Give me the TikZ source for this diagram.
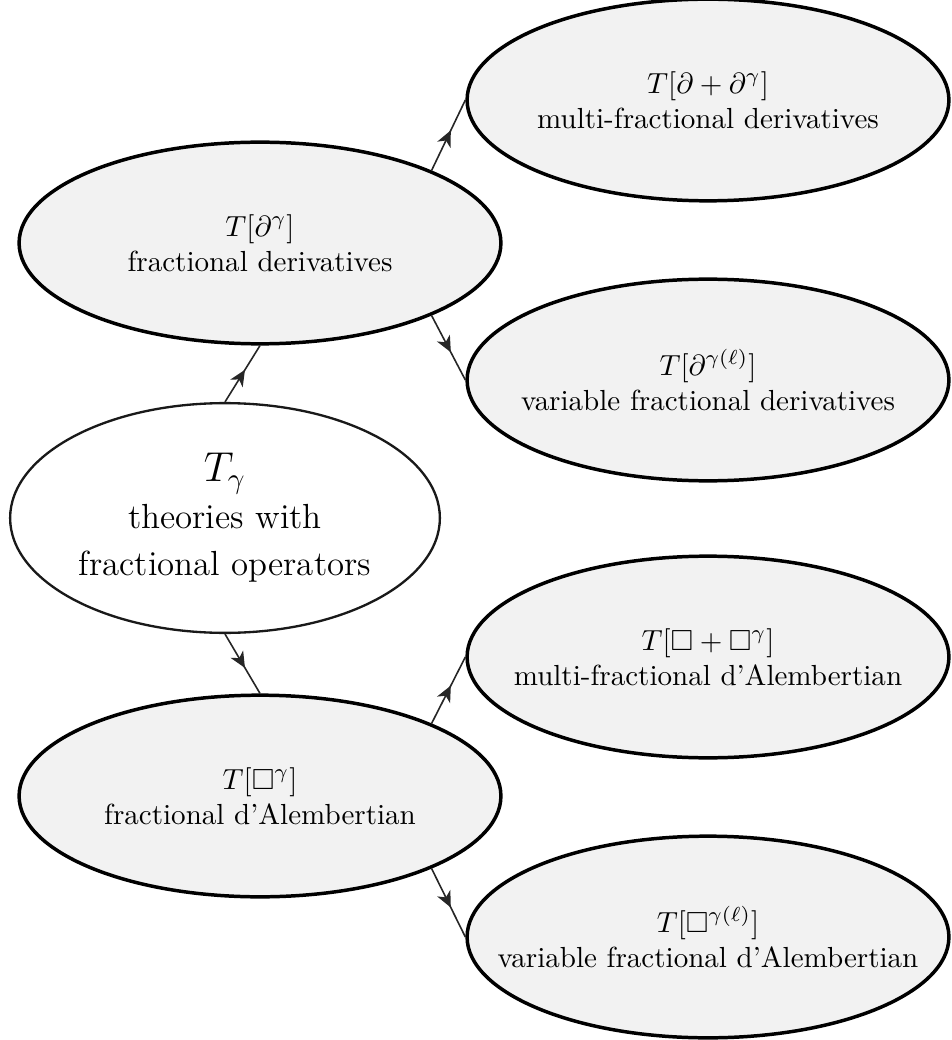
\documentclass[tikz,border=0pt]{standalone}
\usepackage{amssymb,amsmath}
\usetikzlibrary{arrows.meta,decorations.markings,shapes.geometric}

\tikzset{
	opnode/.style={ellipse,draw=black,line width=1.2pt,fill=gray!10,
		minimum width=5.83cm,minimum height=2.44cm,align=center,inner xsep=-25pt,inner ysep=0pt},
	rootnode/.style={ellipse,draw=black!90,line width=0.8pt,fill=white,
		minimum width=5.2cm,minimum height=2.78cm,align=center,inner xsep=-10pt,inner ysep=0pt},
	midarrow/.style={draw=black!85,line width=0.55pt,postaction={decorate},
		decoration={markings,mark=at position 0.57 with {\arrow{Stealth[length=5.5pt,width=5pt,inset=1.6pt]}}}}
}

\begin{document}
\begin{tikzpicture}[x=1.21mm,y=1.21mm]
		\useasboundingbox (0,0) rectangle (95.1,-104);

		\node[rootnode] (Tg) at (22.5,-51.8) {{\Large $T_\gamma$}\\[2.5pt]
			{\large theories with}\\[4.4pt] {\large fractional operators}};

		% left column
		\node[opnode] (D) at (26,-24.3) {$T[\partial^\gamma]$\\ fractional derivatives};
		\node[opnode] (B) at (26,-79.6) {$T[\Box^\gamma]$\\ fractional d'Alembertian};

		% right column
		\node[opnode] (DD) at (70.8,-10) {$T[\partial+\partial^\gamma]$\\ multi-fractional derivatives};
		\node[opnode] (DL) at (70.8,-38) {$T[\partial^{\gamma(\ell)}]$\\ variable fractional derivatives};
		\node[opnode] (BB) at (70.8,-65.7) {$T[\Box+\Box^\gamma]$\\ multi-fractional d'Alembertian};
		\node[opnode] (BL) at (70.8,-93.7) {$T[\Box^{\gamma(\ell)}]$\\ variable fractional d'Alembertian};

		\draw[midarrow] (Tg.north)--(D.south);
		\draw[midarrow] (Tg.south)--(B.north);
		\draw[midarrow] (D.north east)--(DD.west);
		\draw[midarrow] (D.south east)--(DL.west);
		\draw[midarrow] (B.north east)--(BB.west);
		\draw[midarrow] (B.south east)--(BL.west);
\end{tikzpicture}
\end{document}
